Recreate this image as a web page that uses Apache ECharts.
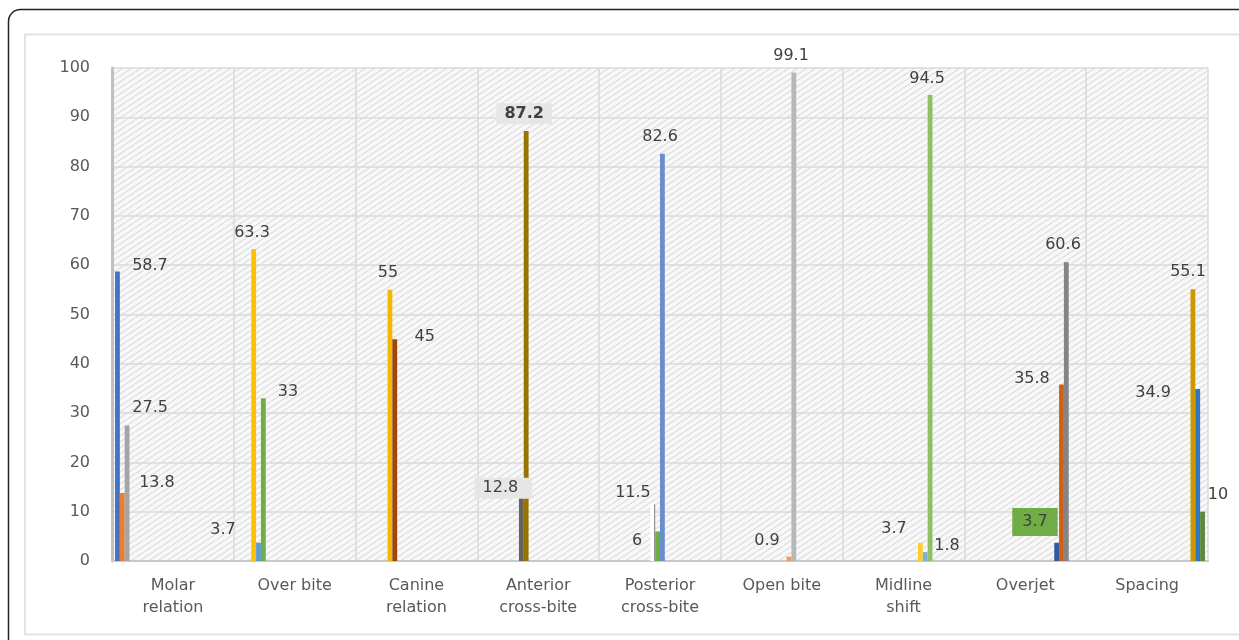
<!DOCTYPE html>
<html>
<head>
<meta charset="utf-8">
<title>Malocclusion traits</title>
<script src="https://cdn.jsdelivr.net/npm/echarts@6/dist/echarts.min.js"></script>
<style>
  html, body { margin: 0; padding: 0; background: #ffffff; }
  #chart { width: 1239px; height: 640px; }
</style>
</head>
<body>
<div id="chart"></div>
<script>
// Categories on the x axis
const categories = [
  'Molar\nrelation', 'Over bite', 'Canine\nrelation', 'Anterior\ncross-bite',
  'Posterior\ncross-bite', 'Open bite', 'Midline\nshift', 'Overjet', 'Spacing'
];

// Percentages for each category (each value is its own series)
const molarRelation      = [58.7, 13.8, 27.5];
const overBite           = [63.3, 3.7, 33];
const canineRelation     = [55, 45];
const anteriorCrossBite  = [12.8, 87.2];
const posteriorCrossBite = [11.5, 6, 82.6];
const openBite           = [0.9, 99.1];
const midlineShift       = [3.7, 1.8, 94.5];
const overjet            = [3.7, 35.8, 60.6];
const spacing            = [55.1, 34.9, 10];

const groups = [
  molarRelation, overBite, canineRelation, anteriorCrossBite,
  posteriorCrossBite, openBite, midlineShift, overjet, spacing
];

// Bar fill per series, in order
const barColors = [
  '#4472C4', '#ED7D31', '#A5A5A5',
  '#FFC000', '#5B9BD5', '#70AD47',
  '#F5B800', '#9E480E',
  '#636363', '#997300',
  'white-edge', '#70AD47', '#698ED0',
  '#F1975A', '#B7B7B7',
  '#FFCD33', '#7CAFDD', '#8CC168',
  '#335AA1', '#D26012', '#848484',
  '#CC9A00', '#3275BD', '#5A8A39'
];

// Label nudges [dx, dy] relative to the bar top, per series
const labelNudge = [
  [32.5, 3.6], [34.7, -0.9], [23, -8.7],
  [-1.7, -7.3], [-35.5, -4.3], [24.7, 2.6],
  [-2, -7.8], [30, 6.5],
  [-18, 0.9], [-2, -6.8],
  [-19.8, -2.3], [-20.6, 18.4], [-2.4, -8.3],
  [-22, -6.8], [-2.8, -7.8],
  [-26.4, -5.3], [21.8, 3.1], [-3, -7.3],
  [-21.7, -6.7], [-29.5, 3.1], [-3.3, -8.7],
  [-4.9, -8.3], [-44.7, 13.4], [15.5, -7.8]
];

// Labels drawn inside a filled box
const boxedLabels = {
  8:  { backgroundColor: '#E7E6E6', padding: [1.5, 14, 1.5, 8], fontWeight: 'normal' },
  9:  { backgroundColor: '#E7E6E6', padding: [1.5, 8], fontWeight: 'bold' },
  18: { backgroundColor: '#70AD47', padding: [5, 10], fontWeight: 'normal' }
};
// Series whose box must cover the neighbouring bar go on an upper layer
const upperLayer = { 8: 1, 18: 1 };

const FONT = 'DejaVu Sans';
const FONT_SIZE = 16;

// Diagonal hatch used as the plot background
function hatchPattern() {
  const w = 9, h = 6;
  const c = document.createElement('canvas');
  c.width = w; c.height = h;
  const ctx = c.getContext('2d');
  ctx.fillStyle = '#f8f8f8';
  ctx.fillRect(0, 0, w, h);
  ctx.strokeStyle = '#dedede';
  ctx.lineWidth = 1.3;
  for (const sx of [-w, 0, w]) {
    ctx.beginPath();
    ctx.moveTo(sx, h);
    ctx.lineTo(sx + w, 0);
    ctx.stroke();
  }
  return { image: c, repeat: 'repeat' };
}

function fillFor(color) {
  if (color === 'white-edge') {
    return new echarts.graphic.LinearGradient(0, 0, 1, 0, [
      { offset: 0, color: '#ffffff' },
      { offset: 0.78, color: '#ffffff' },
      { offset: 0.78, color: '#8f8f8f' },
      { offset: 1, color: '#8f8f8f' }
    ]);
  }
  return color;
}

const series = [];
let idx = 0;
groups.forEach((vals, catIndex) => {
  vals.forEach((v) => {
    const i = idx++;
    const data = categories.map(() => null);
    const extra = boxedLabels[i] || {};
    data[catIndex] = {
      value: v,
      label: Object.assign({ offset: labelNudge[i] }, extra)
    };
    series.push({
      type: 'bar',
      name: 's' + (i + 1),
      zlevel: upperLayer[i] || 0,
      data: data,
      barGap: '0%',
      barCategoryGap: '5%',
      itemStyle: { color: fillFor(barColors[i]) },
      label: {
        show: true,
        position: 'top',
        distance: 0,
        formatter: '{c}',
        color: '#404040',
        fontFamily: FONT,
        fontSize: FONT_SIZE,
        lineHeight: 18
      },
      emphasis: { disabled: true },
      animation: false
    });
  });
});

const chart = echarts.init(document.getElementById('chart'), null, { renderer: 'canvas' });
chart.setOption({
  animation: false,
  backgroundColor: '#ffffff',
  graphic: [
    {
      type: 'rect', z: -10, silent: true,
      shape: { x: 8.5, y: 9.5, width: 1300, height: 700, r: 12 },
      style: { fill: null, stroke: '#222222', lineWidth: 1.5 }
    },
    {
      type: 'rect', z: -10, silent: true,
      shape: { x: 25, y: 34.5, width: 1300, height: 600 },
      style: { fill: null, stroke: '#e3e3e3', lineWidth: 2 }
    }
  ],
  grid: {
    left: 112, right: 31, top: 68, bottom: 79,
    show: true,
    backgroundColor: hatchPattern(),
    borderWidth: 0
  },
  xAxis: {
    type: 'category',
    data: categories,
    axisTick: { show: false },
    axisLine: { lineStyle: { color: '#C8C8C8', width: 2 } },
    splitLine: { show: true, lineStyle: { color: '#DADADA', width: 1.5 } },
    axisLabel: {
      interval: 0,
      color: '#595959',
      fontFamily: FONT,
      fontSize: FONT_SIZE,
      lineHeight: 22,
      margin: 14
    }
  },
  yAxis: {
    type: 'value',
    min: 0, max: 100, interval: 10,
    axisLine: { show: true, lineStyle: { color: '#C0C0C0', width: 3 } },
    axisTick: { show: false },
    splitLine: { lineStyle: { color: '#DADADA', width: 1.5 } },
    axisLabel: {
      color: '#595959',
      fontFamily: FONT,
      fontSize: FONT_SIZE,
      margin: 22,
      padding: [8, 0, 0, 0]
    }
  },
  series: series
});
</script>
</body>
</html>
